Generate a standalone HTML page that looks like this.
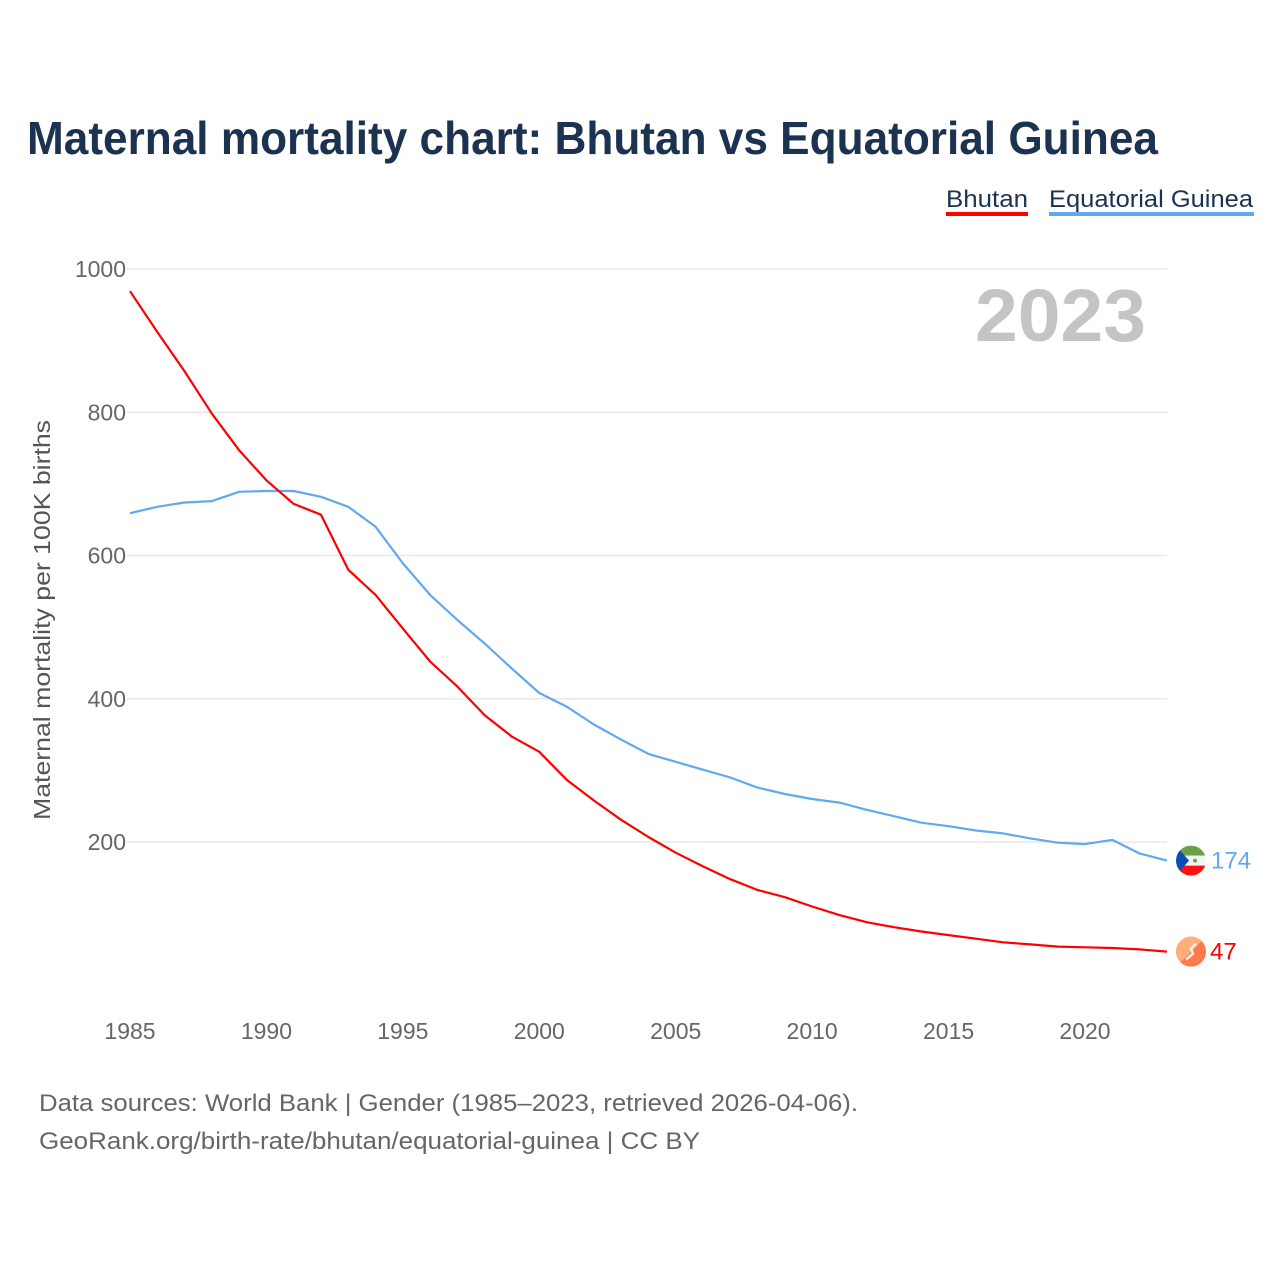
<!DOCTYPE html>
<html><head><meta charset="utf-8"><style>
body{margin:0;background:#fff;font-family:"Liberation Sans",sans-serif}
svg{display:block}
</style></head><body>
<svg id="chart" width="1280" height="1280" viewBox="0 0 1280 1280" xmlns="http://www.w3.org/2000/svg">
<rect width="1280" height="1280" fill="#fff"/>
<text x="27" y="154" font-size="46" font-weight="bold" fill="#1b3250" textLength="1131" lengthAdjust="spacingAndGlyphs">Maternal mortality chart: Bhutan vs Equatorial Guinea</text>
<g>
<g><text x="946" y="207" font-size="24" fill="#1b3250" textLength="82" lengthAdjust="spacingAndGlyphs">Bhutan</text><rect x="946" y="212" width="82" height="4" fill="#ff0000"/></g>
<g><text x="1049" y="207" font-size="24" fill="#1b3250" textLength="204" lengthAdjust="spacingAndGlyphs">Equatorial Guinea</text><rect x="1049" y="212" width="205" height="4" fill="#62a8ee"/></g>
</g>
<g id="grid"></g>
<g id="yticks"></g>
<g id="xticks"></g>
<text x="975" y="341" font-size="74" font-weight="bold" fill="#c4c4c4" textLength="171" lengthAdjust="spacingAndGlyphs">2023</text>
<text transform="translate(50,620) rotate(-90)" font-size="23" fill="#555" text-anchor="middle" textLength="400" lengthAdjust="spacingAndGlyphs">Maternal mortality per 100K births</text>
<g id="series"></g>
<g id="ends"></g>
<text x="39" y="1111" font-size="24" fill="#666" textLength="819" lengthAdjust="spacingAndGlyphs">Data sources: World Bank | Gender (1985–2023, retrieved 2026-04-06).</text>
<text x="39" y="1149" font-size="24" fill="#666" textLength="661" lengthAdjust="spacingAndGlyphs">GeoRank.org/birth-rate/bhutan/equatorial-guinea | CC BY</text>
</svg>
<script>
const years = [1985,1986,1987,1988,1989,1990,1991,1992,1993,1994,1995,1996,1997,1998,1999,2000,2001,2002,2003,2004,2005,2006,2007,2008,2009,2010,2011,2012,2013,2014,2015,2016,2017,2018,2019,2020,2021,2022,2023];
const bhutan = [969,912,857,798,747,705,672,657,580,545,498,452,417,377,347,326,287,258,231,207,185,166,148,133,123,110,98,88,81,75,70,65,60,57,54,53,52,50,47];
const eqGuinea = [659,668,674,676,689,690,690,682,668,640,589,545,510,477,442,408,389,364,343,323,312,301,290,276,267,260,255,245,236,227,222,216,212,205,199,197,203,184,174];
const yTicks = [200,400,600,800,1000];
const xTicks = [1985,1990,1995,2000,2005,2010,2015,2020];
const NS='http://www.w3.org/2000/svg';
const x = yr => 130 + (yr-1985)*(955/35);
const y = v => 985.25 - v*0.71625;
function mk(tag, attrs, parent){const e=document.createElementNS(NS,tag);for(const k in attrs)e.setAttribute(k,attrs[k]);parent.appendChild(e);return e;}
const grid=document.getElementById('grid'), yt=document.getElementById('yticks'), xt=document.getElementById('xticks');
yTicks.forEach(v=>{
  const l=mk('line',{x1:127,x2:1167,y1:y(v),y2:y(v),stroke:'#e8e8e8','stroke-width':1.5},grid);
  
  
  const t=mk('text',{x:126,y:y(v)+8,'font-size':23,fill:'#666','text-anchor':'end'},yt);
  t.textContent=v;
  
  
});
xTicks.forEach(v=>{
  const t=mk('text',{x:x(v),y:1039,'font-size':23,fill:'#666','text-anchor':'middle'},xt);
  t.textContent=v;
  
  
});
const ser=document.getElementById('series');
function line(vals,color,name){
  const d=vals.map((v,i)=>(i?'L':'M')+x(years[i]).toFixed(1)+' '+y(v).toFixed(1)).join(' ');
  const p=mk('path',{d:d,fill:'none',stroke:color,'stroke-width':2.2,'stroke-linejoin':'round'},ser);
  
  
}
line(eqGuinea,'#62a8ee','line-equatorial-guinea');
line(bhutan,'#ff0000','line-bhutan');
const ends=document.getElementById('ends');
const lastI=years.length-1;
const gy=y(eqGuinea[lastI]), by=y(bhutan[lastI]), fx=1191;
const defs=mk('defs',{},ends);
const c1=mk('clipPath',{id:'cg'},defs); mk('circle',{cx:fx,cy:gy,r:15},c1);
const c2=mk('clipPath',{id:'cb'},defs); mk('circle',{cx:fx,cy:by,r:15},c2);
const g1=mk('g',{'clip-path':'url(#cg)'},ends);


mk('rect',{x:fx-15,y:gy-15,width:30,height:10,fill:'#6aa046'},g1);
mk('rect',{x:fx-15,y:gy-5,width:30,height:10,fill:'#f4f4f4'},g1);
mk('rect',{x:fx-15,y:gy+5,width:30,height:10,fill:'#ff1010'},g1);
mk('polygon',{points:`${fx-15},${gy-15} ${fx-2},${gy} ${fx-15},${gy+15}`,fill:'#0a50b4'},g1);
mk('circle',{cx:fx+4,cy:gy,r:2,fill:'#6aa046'},g1);
const g2=mk('g',{'clip-path':'url(#cb)'},ends);


mk('rect',{x:fx-15,y:by-15,width:30,height:30,fill:'#ff7a4a'},g2);
mk('polygon',{points:`${fx-15},${by-15} ${fx+15},${by-15} ${fx-15},${by+15}`,fill:'#ffb07a'},g2);
mk('path',{d:`M${fx+5} ${by-8} L${fx} ${by-3} L${fx+2} ${by+2} L${fx-5} ${by+8}`,stroke:'#eee','stroke-width':2.5,fill:'none'},g2);
const t1=mk('text',{x:1211,y:gy+8,'font-size':24,fill:'#62a8ee'},ends);
t1.textContent=eqGuinea[lastI];


const t2=mk('text',{x:1210,y:by+8,'font-size':24,fill:'#ff0000'},ends);
t2.textContent=bhutan[lastI];


</script>
</body></html>
